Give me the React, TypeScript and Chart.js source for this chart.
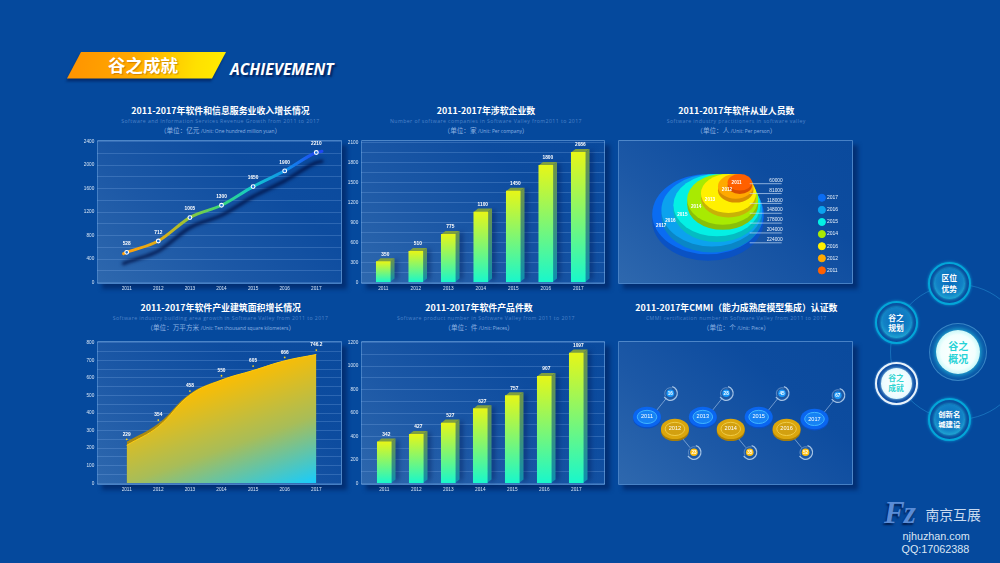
import React, { useEffect, useRef } from "react";
import { Chart, registerables } from "chart.js";

Chart.register(...registerables);

// ---------- data ----------
const years = [2011, 2012, 2013, 2014, 2015, 2016, 2017];

const revenueLabels = ["528", "712", "1005", "1300", "1650", "1900", "2210"];
const revenueValues = [517, 710, 1108, 1318, 1636, 1903, 2216];
const revenueCurveYears = [2010.9, 2011, 2012, 2013, 2014, 2015, 2016, 2017, 2017.18];
const revenueCurveValues = [494, 517, 710, 1108, 1318, 1636, 1903, 2216, 2236];

const companyLabels = ["350", "510", "775", "1100", "1450", "1800", "2086"];
const companyValues = [311, 466, 722, 1058, 1373, 1759, 1955];

const peopleYears = ["2017", "2016", "2015", "2014", "2013", "2012", "2011"];
const peopleLegend = ["2017", "2016", "2015", "2014", "2016", "2012", "2011"];
const peopleValues = [224000, 204000, 178000, 148000, 118000, 81000, 60000];
const peopleColors = ["#0a6cf2", "#0ca2ee", "#04f0e4", "#a8ea02", "#fff000", "#ffa900", "#ff6000"];
const peopleRims = ["#0a52c4", "#0a86c6", "#04bcc2", "#88c00a", "#c8b206", "#d88c02", "#d84e00"];

const areaLabels = ["229", "354", "458", "550", "605", "666", "746.2"];
const areaMarkers = [250, 360, 525, 612, 667, 716, 758];
const areaValues = [216, 322, 502, 587, 642, 697, 733];
const areaEdge = [236, 340, 510, 590, 643, 697, 733];

const productLabels = ["342", "427", "527", "627", "757", "907", "1097"];
const productValues = [353, 418, 515, 637, 748, 913, 1112];

const cmmiValues = [16, 23, 28, 35, 45, 52, 67];

const panelTitles = [
  { t: "2011-2017年软件和信息服务业收入增长情况", s: "Software and Information Services Revenue Growth from 2011 to 2017", c: "单位：亿元", l: "/Unit:  One hundred million yuan", x: 220.5, tx: 220.5, y: 0 },
  { t: "2011-2017年涉软企业数", s: "Number of software companies in Software Valley from2011 to 2017", c: "单位：家", l: "/Unit: Per company", x: 486, tx: 486, y: 0 },
  { t: "2011-2017年软件从业人员数", s: "Software industry practitioners in software valley", c: "单位：人", l: "/Unit: Per person", x: 736.3, tx: 736.3, y: 0 },
  { t: "2011-2017年软件产业建筑面积增长情况", s: "Software industry building area growth in Software Valley from 2011 to 2017", c: "单位：万平方米", l: "/Unit:  Ten thousand square kilometers", x: 220.5, tx: 220.7, y: 197 },
  { t: "2011-2017年软件产品件数", s: "Software product number in Software Valley from 2011 to 2017", c: "单位：件", l: "/Unit:  Pieces", x: 486, tx: 479, y: 197 },
  { t: "2011-2017年CMMI（能力成熟度模型集成）认证数", s: "CMMI certification number in Software Valley from 2011 to 2017", c: "单位：个", l: "/Unit:  Piece", x: 736.3, tx: 736.3, y: 197 },
];

const navItems = [
  { lines: ["区位", "优势"], x: 949.3, y: 283.5, kind: "normal" },
  { lines: ["谷之", "规划"], x: 896, y: 322.7, kind: "normal" },
  { lines: ["谷之", "概况"], x: 958.3, y: 351.7, kind: "center" },
  { lines: ["谷之", "成就"], x: 896, y: 383.3, kind: "active" },
  { lines: ["创新名", "城建设"], x: 949.3, y: 419, kind: "normal" },
];

// ---------- shared helpers ----------
const TICK_FONT = { family: "'Liberation Sans', Arial, sans-serif", size: 4.7 };
const GRID = "rgba(140,185,240,0.25)";
const TICK_COLOR = "#d8e6f6";

function frame(l: number, t: number, r: number, b: number) {
  const cl = Math.floor(l) - 26;
  const ct = Math.floor(t) - 6;
  const cw = Math.ceil(r) + 14 - cl;
  const ch = Math.ceil(b) + 14 - ct;
  return { cl, ct, cw, ch, padTop: t - ct, padRight: cl + cw - r, yw: l - cl, xh: ct + ch - b, left: l, right: r };
}

function axes(f: any, firstPx: number, step: number, maxY: number, stepY: number, labelEvery: number) {
  const width = f.right - f.left;
  const min = 2011 - (firstPx - f.left) / step;
  return {
    x: {
      type: "linear",
      min,
      max: min + width / step,
      bounds: "data",
      offset: false,
      grid: { display: false, drawTicks: false },
      border: { display: false },
      afterFit: (a: any) => { a.height = f.xh; },
      afterBuildTicks: (a: any) => { a.ticks = years.map((value) => ({ value })); },
      ticks: {
        autoSkip: false, maxRotation: 0, padding: 3.6,
        color: TICK_COLOR, font: TICK_FONT,
        callback: (v: number) => String(v),
      },
    },
    y: {
      type: "linear",
      min: 0,
      max: maxY,
      grid: { color: GRID, lineWidth: 1, drawTicks: false },
      border: { display: false },
      afterFit: (a: any) => { a.width = f.yw; },
      ticks: {
        stepSize: stepY, padding: 2.7, color: TICK_COLOR, font: TICK_FONT, autoSkip: false,
        callback: (v: number) => (v % labelEvery === 0 ? String(v) : ""),
      },
    },
  };
}

function baseOptions(f: any, scales: any) {
  return {
    responsive: false,
    animation: false,
    events: [],
    layout: { padding: { top: f.padTop, right: f.padRight, left: 0, bottom: 0 } },
    plugins: { legend: { display: false }, tooltip: { enabled: false }, title: { display: false } },
    scales,
  };
}

function labelPlugin(texts: string[], dsIndex: number, dx: number, dy: number) {
  return {
    id: "valueLabels",
    afterDatasetsDraw(chart: any) {
      const { ctx } = chart;
      const pts = chart.getDatasetMeta(dsIndex).data;
      ctx.save();
      ctx.font = "bold 4.8px 'Liberation Sans', Arial, sans-serif";
      ctx.fillStyle = "#ffffff";
      ctx.textAlign = "center";
      ctx.textBaseline = "middle";
      pts.forEach((p: any, i: number) => ctx.fillText(texts[i], p.x + dx, p.y + dy));
      ctx.restore();
    },
  };
}

// ---------- chart configs ----------
function revenueConfig(f: any) {
  const gradient = (c: any) => {
    const { ctx, scales, chartArea } = c.chart;
    if (!chartArea) return "#ff9f0a";
    const g = ctx.createLinearGradient(scales.x.getPixelForValue(2011), 0, scales.x.getPixelForValue(2017), 0);
    g.addColorStop(0, "#ffa00a");
    g.addColorStop(0.2, "#d8b018");
    g.addColorStop(0.34, "#8cc83c");
    g.addColorStop(0.5, "#38d878");
    g.addColorStop(0.66, "#14c8cc");
    g.addColorStop(0.84, "#1090ea");
    g.addColorStop(1, "#1e48f2");
    return g;
  };
  const shadow = {
    id: "lineShadow",
    beforeDatasetDraw(chart: any, args: any) {
      if (args.index !== 1) return;
      const { ctx } = chart;
      ctx.save();
      ctx.shadowColor = "rgba(0,18,70,1)";
      ctx.shadowBlur = 3.5;
      ctx.shadowOffsetY = 10;
      ctx.shadowOffsetX = 0;
    },
    afterDatasetDraw(chart: any, args: any) {
      if (args.index === 1) chart.ctx.restore();
    },
  };
  return {
    type: "line",
    data: {
      datasets: [
        {
          label: "points",
          data: years.map((x, i) => ({ x, y: revenueValues[i] })),
          showLine: false,
          pointRadius: 1.9,
          pointBorderWidth: 1.1,
          pointBorderColor: "#ffffff",
          pointBackgroundColor: "#1a70d8",
        },
        {
          label: "curve",
          data: revenueCurveYears.map((x, i) => ({ x, y: revenueCurveValues[i] })),
          borderColor: gradient,
          borderWidth: 3,
          cubicInterpolationMode: "monotone",
          pointRadius: 0,
          borderCapStyle: "round",
          fill: false,
        },
      ],
    },
    options: baseOptions(f, axes(f, 126.7, 31.6, 2400, 200, 400)),
    plugins: [shadow, labelPlugin(revenueLabels, 0, 0, -8.7)],
  };
}

function barConfig(f: any, firstPx: number, step: number, maxY: number, stepY: number, every: number, values: number[], texts: string[]) {
  const front = (c: any) => {
    const { chart, parsed } = c;
    if (!chart.chartArea || !parsed) return "#7cf570";
    const s = chart.scales.y;
    const y0 = s.getPixelForValue(parsed.y);
    const y1 = s.getPixelForValue(0);
    if (!Number.isFinite(y0) || !Number.isFinite(y1)) return "#7cf570";
    const g = chart.ctx.createLinearGradient(0, y0, 0, y1);
    g.addColorStop(0, "#e6f618");
    g.addColorStop(1, "#18f7cc");
    return g;
  };
  const extrude = {
    id: "bar3d",
    beforeDatasetsDraw(chart: any) {
      const { ctx } = chart;
      const dx = 4.2, dy = 3.4;
      chart.getDatasetMeta(0).data.forEach((b: any) => {
        const l = b.x - b.width / 2, r = b.x + b.width / 2;
        ctx.save();
        ctx.shadowColor = "rgba(0,22,80,0.55)";
        ctx.shadowBlur = 5;
        ctx.shadowOffsetX = 3;
        ctx.shadowOffsetY = 0;
        const side = ctx.createLinearGradient(0, b.y - dy, 0, b.base);
        side.addColorStop(0, "#6f9448");
        side.addColorStop(1, "#0d8fae");
        ctx.fillStyle = side;
        ctx.beginPath();
        ctx.moveTo(r, b.y);
        ctx.lineTo(r + dx, b.y - dy);
        ctx.lineTo(r + dx, b.base - dy);
        ctx.lineTo(r, b.base);
        ctx.closePath();
        ctx.fill();
        ctx.restore();
        ctx.fillStyle = "#7e9f40";
        ctx.beginPath();
        ctx.moveTo(l, b.y);
        ctx.lineTo(l + dx, b.y - dy);
        ctx.lineTo(r + dx, b.y - dy);
        ctx.lineTo(r, b.y);
        ctx.closePath();
        ctx.fill();
      });
    },
  };
  return {
    type: "bar",
    data: {
      datasets: [
        {
          label: "value",
          data: years.map((x, i) => ({ x, y: values[i] })),
          backgroundColor: front,
          barThickness: 14,
        },
      ],
    },
    options: baseOptions(f, axes(f, firstPx, step, maxY, stepY, every)),
    plugins: [extrude, labelPlugin(texts, 0, 2, -7.4)],
  };
}

function areaConfig(f: any) {
  const fillGradient = (c: any) => {
    const { ctx, scales, chartArea } = c.chart;
    if (!chartArea) return "#d8bc30";
    const x1 = scales.x.getPixelForValue(2017);
    const y1 = chartArea.bottom;
    const g = ctx.createLinearGradient(x1 - 43, y1 - 120, x1, y1);
    g.addColorStop(0, "#f8bd06");
    g.addColorStop(0.5, "#a8bd58");
    g.addColorStop(1, "#16ccff");
    return g;
  };
  return {
    type: "line",
    data: {
      datasets: [
        {
          label: "markers",
          data: years.map((x, i) => ({ x, y: areaMarkers[i] })),
          showLine: false,
          pointRadius: 0.9,
          pointBorderWidth: 0,
          pointBackgroundColor: "#ffd416",
        },
        {
          label: "area",
          data: years.map((x, i) => ({ x, y: areaValues[i] })),
          tension: 0.4,
          borderColor: "#ffcc10",
          borderWidth: 1,
          pointRadius: 0,
          backgroundColor: fillGradient,
          fill: "origin",
        },
        {
          label: "edge",
          data: years.map((x, i) => ({ x, y: areaEdge[i] })),
          tension: 0.4,
          borderWidth: 0,
          pointRadius: 0,
          backgroundColor: "#a98a12",
          fill: "origin",
        },
      ],
    },
    options: baseOptions(f, axes(f, 126.7, 31.6, 800, 50, 100)),
    plugins: [labelPlugin(areaLabels, 0, 0, -5)],
  };
}

function peopleConfig() {
  const ellipses = {
    id: "ellipses",
    afterDatasetsDraw(chart: any) {
      const { ctx, scales, chartArea } = chart;
      ctx.save();
      const top = scales.y.getPixelForValue(17.3);
      const boxes = peopleValues.map((v, i) => {
        const k = v / 1000;
        const p = chart.getDatasetMeta(i).data[0];
        const right = scales.x.getPixelForValue(k * 0.157 - 16.5);
        return { k, left: p.x, bottom: p.y, right };
      });
      boxes.forEach((b, i) => {
        const cx = (b.left + b.right) / 2, rx = (b.right - b.left) / 2;
        const cy = (top + b.bottom) / 2, ry = (b.bottom - top) / 2;
        const depth = 2.2 + b.k * 0.0195;
        ctx.fillStyle = peopleRims[i];
        ctx.beginPath();
        ctx.ellipse(cx, cy + depth, rx, ry, 0, 0, Math.PI * 2);
        ctx.fill();
        ctx.fillStyle = peopleColors[i];
        ctx.beginPath();
        ctx.ellipse(cx, cy, rx, ry, 0, 0, Math.PI * 2);
        ctx.fill();
      });
      ctx.font = "bold 4.6px 'Liberation Sans', Arial, sans-serif";
      ctx.fillStyle = "#ffffff";
      ctx.textBaseline = "middle";
      ctx.textAlign = "center";
      boxes.forEach((b, i) => {
        ctx.fillText(peopleYears[i], b.left + 9, top + (b.bottom - top) * (i === 6 ? 0.55 : 0.65));
      });
      // leader lines with values, smallest ring at the top
      const last = peopleValues.length - 1;
      const lineEnd = chartArea.left + 163.7;
      boxes.forEach((b, i) => {
        const row = last - i;
        const y = chartArea.top + 43.7 + row * 9.85;
        ctx.strokeStyle = "rgba(200,222,248,0.85)";
        ctx.lineWidth = 0.8;
        ctx.beginPath();
        ctx.moveTo(lineEnd - 32, y);
        ctx.lineTo(lineEnd, y);
        ctx.stroke();
        ctx.textAlign = "right";
        ctx.font = "4.8px 'Liberation Sans', Arial, sans-serif";
        ctx.fillStyle = "#e8f1fb";
        ctx.fillText(String(peopleValues[i]), lineEnd + 1, y - 3.2);
      });
      ctx.restore();
    },
  };
  const rightEdge = 809.5;
  const k = 0.453;
  return {
    type: "scatter",
    data: {
      datasets: peopleValues.map((v, i) => ({
        label: peopleLegend[i],
        data: [{ x: -v / 1000, y: v / 1000 }],
        pointStyle: "circle",
        pointRadius: 0,
        backgroundColor: peopleColors[i],
        pointBackgroundColor: peopleColors[i],
        borderColor: peopleColors[i],
      })),
    },
    options: {
      responsive: false,
      animation: false,
      events: [],
      plugins: {
        tooltip: { enabled: false },
        legend: {
          display: true,
          position: "right",
          align: "end",
          labels: {
            usePointStyle: true,
            color: "#e8f1fb",
            padding: 7.1,
            font: { family: "'Liberation Sans', Arial, sans-serif", size: 5 },
          },
        },
      },
      scales: {
        x: { type: "linear", display: false, min: (618 - 753.2) / k, max: (rightEdge - 753.2) / k, bounds: "data" },
        y: { type: "linear", display: false, reverse: true, min: -70.4, max: 290.5, bounds: "data" },
      },
    },
    plugins: [ellipses],
  };
}

function cmmiConfig() {
  const nodes = {
    id: "nodes",
    afterDatasetsDraw(chart: any) {
      const { ctx } = chart;
      const pts = chart.getDatasetMeta(0).data;
      const tau = Math.PI * 2;
      ctx.save();
      pts.forEach((p: any, i: number) => {
        const upper = i % 2 === 0;
        const bx = p.x + (upper ? 23.3 : 19);
        const by = p.y + (upper ? -24 : 23);
        ctx.strokeStyle = "rgba(190,215,245,0.6)";
        ctx.lineWidth = 0.9;
        ctx.beginPath();
        ctx.moveTo(p.x + (upper ? 4 : 0), p.y);
        ctx.lineTo(bx, by);
        ctx.stroke();
      });
      pts.forEach((p: any, i: number) => {
        const upper = i % 2 === 0;
        const bx = p.x + (upper ? 23.3 : 19);
        const by = p.y + (upper ? -24 : 23);
        ctx.fillStyle = "rgba(30,90,165,0.9)";
        ctx.beginPath();
        ctx.arc(bx, by, 6.4, 0, tau);
        ctx.fill();
        ctx.strokeStyle = "rgba(200,222,245,0.8)";
        ctx.lineWidth = 1.3;
        ctx.beginPath();
        ctx.arc(bx, by, 7, -1.3, 2.6);
        ctx.stroke();
        ctx.strokeStyle = "rgba(200,222,245,0.35)";
        ctx.lineWidth = 1;
        ctx.beginPath();
        ctx.arc(bx, by, 5.6, 2.6, 5);
        ctx.stroke();
        ctx.fillStyle = upper ? "#1a98f8" : "#ffc010";
        ctx.beginPath();
        ctx.arc(bx, by, 3.8, 0, tau);
        ctx.fill();
        ctx.fillStyle = "#ffffff";
        ctx.font = "bold 4.6px 'Liberation Sans', Arial, sans-serif";
        ctx.textAlign = "center";
        ctx.textBaseline = "middle";
        ctx.fillText(String(cmmiValues[i]), bx, by);
      });
      pts.forEach((p: any, i: number) => {
        const upper = i % 2 === 0;
        const rx = 14, ry = 10.2;
        ctx.fillStyle = upper ? "#0a50c8" : "#a87e08";
        ctx.beginPath();
        ctx.ellipse(p.x, p.y + (upper ? 0.9 : 1.6), rx, ry, 0, 0, tau);
        ctx.fill();
        ctx.fillStyle = upper ? "#0a66f0" : "#dba60c";
        ctx.beginPath();
        ctx.ellipse(p.x, p.y - 0.4, rx, ry, 0, 0, tau);
        ctx.fill();
        ctx.fillStyle = upper ? "#1682f4" : "#d2a010";
        ctx.strokeStyle = upper ? "#42b6ff" : "#f0cc48";
        ctx.lineWidth = 1;
        ctx.beginPath();
        ctx.ellipse(p.x, p.y - 0.4, 9.8, 6.6, 0, 0, tau);
        ctx.fill();
        ctx.stroke();
        ctx.fillStyle = "#ffffff";
        ctx.font = "5.6px 'Liberation Sans', Arial, sans-serif";
        ctx.textAlign = "center";
        ctx.textBaseline = "middle";
        ctx.fillText(String(years[i]), p.x, p.y - 0.4);
      });
      ctx.restore();
    },
  };
  return {
    type: "scatter",
    data: {
      datasets: [
        {
          label: "CMMI",
          data: years.map((x, i) => ({ x, y: i === 6 ? 0.83 : i % 2 === 0 ? 1 : 0 })),
          pointRadius: 0,
        },
      ],
    },
    options: {
      responsive: false,
      animation: false,
      events: [],
      plugins: { legend: { display: false }, tooltip: { enabled: false } },
      scales: {
        x: { type: "linear", display: false, min: 2009.96, max: 2018.38, bounds: "data" },
        y: { type: "linear", display: false, min: -4.64, max: 7.36, bounds: "data" },
      },
    },
    plugins: [nodes],
  };
}

// ---------- components ----------
function ChartCanvas({ left, top, width, height, make }: any) {
  const ref = useRef<HTMLCanvasElement | null>(null);
  useEffect(() => {
    const chart = new Chart(ref.current as any, make());
    return () => chart.destroy();
  }, []);
  return (
    <canvas
      ref={ref}
      width={width}
      height={height}
      style={{ position: "absolute", left, top, width, height, display: "block" }}
    />
  );
}

function Panel({ l, t, r, b }: any) {
  return (
    <div
      style={{
        position: "absolute",
        left: l,
        top: t,
        width: r - l,
        height: b - t,
        boxSizing: "border-box",
        border: "1px solid rgba(90,145,210,0.75)",
        borderRadius: 1,
        background: "linear-gradient(40deg, #2e68ae 0%, #1c58a6 35%, #0d4c9f 70%, #0a4a9d 100%)",
        boxShadow: "5px 5px 4px rgba(2,42,108,0.85)",
      }}
    />
  );
}

function Titles({ item }: any) {
  const base: any = {
    position: "absolute",
    transform: "translate(-50%,-50%)",
    whiteSpace: "nowrap",
    lineHeight: 1,
    fontFamily: "'Noto Sans CJK SC', 'Noto Sans', sans-serif",
  };
  return (
    <>
      <div style={{ ...base, left: item.tx, top: 110.7 + item.y, color: "#ffffff", fontWeight: 700, fontSize: 8.9 }}>{item.t}</div>
      <div style={{ ...base, left: item.x, top: 121.5 + item.y, color: "#4f84ca", fontSize: 5.2, letterSpacing: 0.42, fontFamily: "'Open Sans', sans-serif" }}>{item.s}</div>
      <div style={{ ...base, left: item.tx, top: 130 + item.y, color: "#8db2e2", fontSize: 6.6 }}>
        （{item.c} <span style={{ fontSize: 4.9, fontFamily: "'Open Sans', sans-serif" }}>{item.l}</span>）
      </div>
    </>
  );
}

function NavBubble({ item }: any) {
  const outer = item.kind === "center" ? 58 : 43;
  const inner = item.kind === "center" ? 44 : 31;
  const ring: any =
    item.kind === "center"
      ? { border: "1px solid rgba(120,190,235,0.45)", background: "rgba(10,90,170,0.6)" }
      : item.kind === "active"
      ? { border: "2px solid #e8f2fb", background: "#0e4ea4", boxShadow: "0 0 2px #7db8f0" }
      : { border: "2px solid #03a6d8", background: "#0a4f9f", boxShadow: "0 0 3px #0aa0d8" };
  const face =
    item.kind === "normal"
      ? { background: "radial-gradient(circle at 50% 42%, #0a6abc 0%, #1282c6 55%, #2fd0e2 100%)", color: "#ffffff", fontWeight: 700, boxShadow: "0 0 3px #20c8e6" }
      : item.kind === "active"
      ? { background: "radial-gradient(circle, #ffffff 0%, #eefcff 60%, #bff0fa 100%)", color: "#2fd4d2", fontWeight: 700, boxShadow: "0 0 3px #a8e4f8" }
      : { background: "radial-gradient(circle, #ffffff 0%, #f2fffe 55%, #7deef0 100%)", color: "#27d2d6", fontWeight: 700, boxShadow: "0 0 6px #30dcec" };
  const size = item.kind === "center" ? 10 : item.lines[0].length === 3 ? 7.4 : 7.8;
  return (
    <>
      <div
        style={{
          position: "absolute",
          left: item.x - outer / 2,
          top: item.y - outer / 2,
          width: outer,
          height: outer,
          boxSizing: "border-box",
          borderRadius: "50%",
          ...ring,
        }}
      />
      <div
        style={{
          position: "absolute",
          left: item.x - inner / 2,
          top: item.y - inner / 2,
          width: inner,
          height: inner,
          borderRadius: "50%",
          display: "flex",
          flexDirection: "column",
          alignItems: "center",
          justifyContent: "center",
          fontFamily: "'Noto Sans CJK SC', sans-serif",
          fontSize: size,
          lineHeight: 1.3,
          ...face,
        }}
      >
        {item.lines.map((s: string) => (
          <div key={s} style={{ whiteSpace: "nowrap" }}>{s}</div>
        ))}
      </div>
    </>
  );
}

export default function App() {
  const f1 = frame(97, 141.7, 341, 282.7);
  const f2 = frame(361, 142.7, 605, 282.3);
  const f4 = frame(97, 342.7, 341, 483.3);
  const f5 = frame(361, 342.7, 605, 483.3);
  const fixedText: any = { position: "absolute", whiteSpace: "nowrap", lineHeight: 1 };
  return (
    <div
      style={{
        position: "fixed",
        left: 0,
        top: 0,
        width: 1000,
        height: 563,
        overflow: "hidden",
        background: "#05499d",
      }}
    >
      {/* header */}
      <div style={{ position: "absolute", left: 0, top: 0, width: 300, height: 100, filter: "drop-shadow(-1px 3px 1px rgba(2,30,90,0.65))" }}>
        <div
          style={{
            position: "absolute",
            left: 67,
            top: 52,
            width: 159,
            height: 26.5,
            clipPath: "polygon(8.8% 0, 100% 0, 91.2% 100%, 0 100%)",
            background: "linear-gradient(100deg, #ff9200 0%, #ffa800 40%, #ffe000 80%, #ffee00 100%)",
          }}
        />
      </div>
      <div style={{ ...fixedText, left: 108, top: 56, fontFamily: "'Noto Sans CJK SC', sans-serif", fontWeight: 700, fontSize: 17.5, color: "#fff", textShadow: "1px 1px 1px rgba(170,90,0,0.5)" }}>谷之成就</div>
      <div style={{ ...fixedText, left: 230, top: 61.5, fontFamily: "'Open Sans', sans-serif", fontStyle: "italic", fontWeight: 700, fontSize: 15.6, color: "#fff", textShadow: "2px 2px 2px rgba(0,22,75,0.75)" }}>ACHIEVEMENT</div>

      {panelTitles.map((p) => <Titles key={p.t} item={p} />)}

      <Panel l={97} t={140} r={342} b={284} />
      <Panel l={361} t={140} r={605} b={284} />
      <Panel l={618} t={140} r={853} b={284} />
      <Panel l={97} t={341} r={342} b={485} />
      <Panel l={361} t={341} r={605} b={485} />
      <Panel l={618} t={341} r={853} b={485} />

      <ChartCanvas left={f1.cl} top={f1.ct} width={f1.cw} height={f1.ch} make={() => revenueConfig(f1)} />
      <ChartCanvas left={f2.cl} top={f2.ct} width={f2.cw} height={f2.ch} make={() => barConfig(f2, 383.3, 32.5, 2100, 150, 300, companyValues, companyLabels)} />
      <ChartCanvas left={618} top={140} width={230} height={140} make={peopleConfig} />
      <ChartCanvas left={f4.cl} top={f4.ct} width={f4.cw} height={f4.ch} make={() => areaConfig(f4)} />
      <ChartCanvas left={f5.cl} top={f5.ct} width={f5.cw} height={f5.ch} make={() => barConfig(f5, 384.3, 32, 1200, 100, 200, productValues, productLabels)} />
      <ChartCanvas left={618} top={341} width={235} height={144} make={cmmiConfig} />

      {/* navigation */}
      <div style={{ position: "absolute", left: 890, top: 284, width: 136, height: 136, boxSizing: "border-box", borderRadius: "50%", border: "1px solid rgba(40,150,215,0.5)" }} />
      {navItems.map((n) => <NavBubble key={n.lines.join("")} item={n} />)}

      {/* logo */}
      <div style={{ ...fixedText, left: 884, top: 497, fontFamily: "'Liberation Serif', serif", fontStyle: "italic", fontWeight: 700, fontSize: 31, letterSpacing: -1, color: "#5a8cd6", textShadow: "-1px 2px 2px rgba(0,12,50,0.75)" }}>Fz</div>
      <div style={{ ...fixedText, left: 925.5, top: 507.5, fontFamily: "'Noto Sans CJK SC', sans-serif", fontSize: 13.8, color: "#c8d9ef" }}>南京互展</div>
      <div style={{ ...fixedText, left: 902.5, top: 530.5, fontFamily: "'Liberation Sans', sans-serif", fontSize: 10.8, color: "#dbe6f4" }}>njhuzhan.com</div>
      <div style={{ ...fixedText, left: 901.5, top: 544, fontFamily: "'Liberation Sans', sans-serif", fontSize: 10.8, color: "#dbe6f4" }}>QQ:17062388</div>
    </div>
  );
}
